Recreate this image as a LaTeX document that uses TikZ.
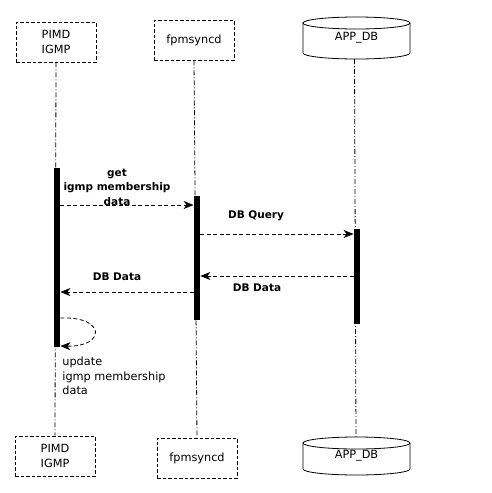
\documentclass[tikz,border=0pt]{standalone}
\usepackage{fontspec}
\setmainfont{DejaVu Sans}
\usetikzlibrary{arrows.meta}
\begin{document}
\begin{tikzpicture}[x=1pt, y=-1pt, line width=0.8pt,
    font=\fontsize{11.3}{14.5}\selectfont,
    actor/.style={draw, dash pattern=on 3.5pt off 2pt, minimum width=80pt, minimum height=40pt, inner sep=0pt, align=center},
    life/.style={dash pattern=on 5pt off 2pt on 1pt off 2pt},
    bar/.style={fill=black, minimum width=6pt, inner sep=0pt},
    msg/.style={dash pattern=on 4pt off 2.5pt, -{Stealth[length=10pt,width=8pt,inset=3pt]}},
    lbl/.style={font=\fontsize{10.5}{14.5}\selectfont\bfseries, align=center}]
    \useasboundingbox (0,0) rectangle (492,493);

    % participants, top and bottom
    \node[actor] (pimdT) at (56,42) {PIMD\\IGMP};
    \node[actor] (fpmT) at (194,40) {fpmsyncd};
    \node (dbT) at (356.5,38) {APP\_DB};
    \node[actor] (pimdB) at (55,456) {PIMD\\IGMP};
    \node[actor] (fpmB) at (197,458) {fpmsyncd};
    \node (dbB) at (356.5,456) {APP\_DB};

    % cylinders
    \draw (356.5,23) ellipse (53.5pt and 6pt);
    \draw (303,23) -- (303,53) arc[start angle=180, end angle=360, x radius=53.5pt, y radius=6pt] -- (410,23);
    \draw (356.5,443) ellipse (53.5pt and 6pt);
    \draw (303,443) -- (303,469) arc[start angle=180, end angle=360, x radius=53.5pt, y radius=6pt] -- (410,443);

    % lifelines
    \draw[life] (pimdT.south) -- (pimdB.north);
    \draw[life] (fpmT.south) -- (fpmB.north);
    \draw[life] (354.5,59) -- (356,437);

    % activations
    \node[bar, minimum height=179pt] (barA) at (57,257.5) {};
    \node[bar, minimum height=124pt] (barB) at (197,258) {};
    \node[bar, minimum height=95pt] (barC) at (357,276.5) {};

    % messages
    \draw[msg] (barA.east |- 0,205) -- (barB.west |- 0,205);
    \node[lbl] (getl) at (117,187) {get\\igmp membership\\data};
    \draw[msg] (barB.east |- 0,234) -- (barC.west |- 0,234);
    \node[lbl] (qryl) at (256,216) {DB Query};
    \draw[msg] (barC.west |- 0,276) -- (barB.east |- 0,276);
    \node[lbl] (dat1) at (257,288) {DB Data};
    \draw[msg] (barB.west |- 0,292) -- (barA.east |- 0,292);
    \node[lbl] (dat2) at (117,277) {DB Data};

    % self message
    \coordinate (selfA) at (barA.east |- 0,318);
    \coordinate (selfB) at (barA.east |- 0,346);
    \draw[msg] (selfA) .. controls (106,316) and (106,347) .. (selfB);
    \node[anchor=north west, align=left, inner sep=0pt] (updl) at (62,357) {update\\igmp membership\\data};
\end{tikzpicture}
\end{document}
